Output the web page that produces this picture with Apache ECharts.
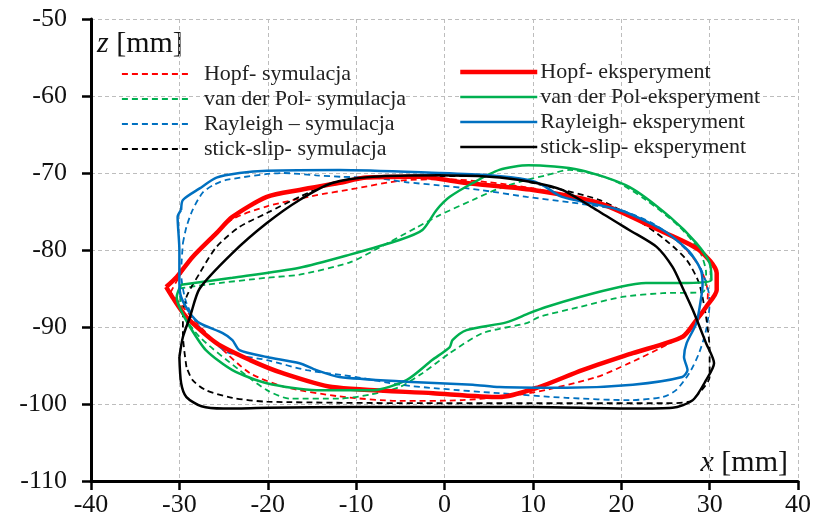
<!DOCTYPE html>
<html>
<head>
<meta charset="utf-8">
<script src="https://cdn.jsdelivr.net/npm/echarts@6/dist/echarts.min.js"></script>
<style>
  html, body { margin: 0; padding: 0; background: #fff; }
  #chart { width: 814px; height: 526px; }
</style>
</head>
<body>
<div id="chart"></div>
<script>
const xTicks = [-40, -30, -20, -10, 0, 10, 20, 30, 40];
const zTicks = [-110, -100, -90, -80, -70, -60, -50];

const simNames = ["Hopf- symulacja", "van der Pol- symulacja", "Rayleigh \u2013 symulacja", "stick-slip- symulacja"];
const expNames = ["Hopf- eksperyment", "van der Pol-eksperyment", "Rayleigh- eksperyment", "stick-slip- eksperyment"];

// [x, z] in mm
const hopfSim = [
  [-31, -85.5], [-29.5, -82.5], [-27, -79], [-24, -76], [-20, -74.3], [-15, -73], [-10, -72],
  [-5, -71], [0, -70.8], [5, -71.2], [10, -72], [15, -73.2], [20, -75], [24, -77], [27, -79.5],
  [29, -82.5], [29.8, -85.6], [29.6, -87.5], [27.7, -90.4], [25.5, -92.1], [20.9, -94.7],
  [17.2, -96.5], [9.6, -98.6], [2, -99.5], [-5, -99.6], [-12, -99], [-18, -97.8], [-22, -96],
  [-25.5, -92.5], [-28, -89.5], [-31, -85.5]
];
const hopfExp = [
  [-31.5, -84.8], [-30.3, -83.5], [-28.5, -80.9], [-25.8, -77.8], [-24, -75.7], [-20.1, -73.1],
  [-16.4, -72.2], [-12, -71.3], [-8.8, -70.6], [-2.8, -70.5], [2.5, -71.3], [10, -72.2],
  [17.5, -73.9], [25, -77.8], [28.8, -80], [30.8, -83], [30.8, -85.2], [29.6, -87.4],
  [28.5, -89.1], [26.9, -91.3], [21.3, -93.4], [15.6, -95.6], [10.7, -97.8], [6.2, -99.1],
  [-1.3, -98.6], [-12.7, -97.8], [-18.3, -96], [-22, -94.3], [-25.8, -92.1], [-29.2, -88.7],
  [-30.8, -86.1], [-31.5, -84.8]
];
const vdpSim = [
  [-30, -85], [-27, -84.5], [-20.1, -83.6], [-16.4, -83.2], [-10.7, -81.6], [-7.4, -79.7],
  [-3.2, -77.1], [-0.6, -75.5], [3.2, -73.5], [6.2, -72], [9.3, -70.9], [11.5, -70.3],
  [14.1, -69.6], [19, -70.9], [22.8, -73.5], [26.6, -77], [28.8, -80], [29.6, -83],
  [29.2, -85.5], [24.7, -85.6], [20.1, -86.1], [15.3, -87.4], [10.7, -88.7], [9.3, -89.5],
  [4.3, -90.8], [0.6, -93.4], [-2.5, -96], [-5.1, -97.8], [-8.5, -98.8], [-11.9, -99.3],
  [-17.5, -99.3], [-20.1, -98.2], [-23.2, -95.6], [-27.7, -91.3], [-29.6, -88.2], [-30, -85]
];
const vdpExp = [
  [-29.8, -84.5], [-24, -83.6], [-16.4, -82.3], [-10.7, -80.6], [-5.1, -78.7], [-2.5, -77.4],
  [-0.9, -74.8], [0.6, -73.1], [3.2, -71.3], [6.2, -69.6], [9.5, -69], [15.3, -69.6],
  [20.9, -71.8], [25.5, -75.7], [28.5, -79.1], [30, -81.7], [30.2, -83.9], [26.6, -84.3],
  [22.8, -84.3], [19.8, -84.8], [15.3, -86.1], [11.5, -87.4], [9.6, -88.2], [7, -89.4],
  [2.5, -90.4], [0.9, -91.7], [0.6, -92.6], [-1.4, -94.3], [-4.3, -96.9], [-8.1, -98.2],
  [-14.5, -98.2], [-20.1, -97.3], [-24, -95.6], [-27, -93], [-28.8, -90], [-30, -87.4],
  [-30.3, -86.1], [-29.8, -84.5]
];
const raySim = [
  [-29.6, -79.1], [-29.2, -77], [-28.5, -74.8], [-27.4, -72.6], [-26.2, -71.6], [-24.7, -70.9],
  [-18.3, -70], [-14.5, -70.3], [-11.5, -70.5], [-8.1, -70.6], [-4.3, -71.2], [-0.6, -71.6],
  [4, -72.2], [9.3, -73.1], [14.1, -73.8], [19.8, -74.8], [23.5, -76.5], [26.5, -79],
  [28.8, -82], [29.8, -85], [30, -86.9], [29.6, -90.4], [28.8, -93.4], [27.7, -96],
  [26.2, -98.2], [24.7, -99.1], [20.9, -99.5], [13.8, -99.2], [6.2, -98.6], [-0.6, -98],
  [-5, -97.5], [-10, -96.5], [-15.6, -95.6], [-20.1, -94.3], [-24.7, -93.2], [-27.7, -90],
  [-29.2, -86.9], [-29.8, -83], [-29.6, -79.1]
];
const rayExp = [
  [-29.8, -74.8], [-29.6, -73.5], [-27.7, -72], [-25.8, -70.6], [-23.2, -70], [-20.1, -69.7],
  [-11.9, -69.6], [-0.6, -70], [5.1, -70.3], [9.5, -70.9], [11, -71.5], [13.3, -73.1],
  [19.8, -74.8], [24.7, -77.4], [27.7, -80.2], [29, -82.6], [29.2, -84.5], [29, -86.5],
  [28.5, -89.5], [27.4, -92.1], [27.1, -93.9], [27.5, -95.6], [26.9, -96.5], [21.3, -97.5],
  [13.8, -97.9], [6.2, -97.8], [3.2, -97.5], [-4.3, -97.1], [-11.9, -96.5], [-14.5, -95.6],
  [-16.4, -94.7], [-20.1, -93.9], [-23.2, -93], [-24, -91.7], [-25.1, -90.8], [-27.7, -89.5],
  [-28.8, -88.2], [-29.8, -86.1], [-30, -84.3], [-30, -80], [-30.2, -75.7], [-29.8, -74.8]
];
const stickSim = [
  [-29.2, -95.2], [-29.6, -91], [-29.6, -88.7], [-29.2, -86.1], [-27.7, -83], [-25.8, -79.6],
  [-23.2, -77], [-20.1, -75.2], [-16.4, -73.1], [-12.7, -71.3], [-8.8, -70.6], [0, -70.4],
  [6.2, -70.5], [11.9, -71.8], [17.5, -73.5], [21.3, -75.7], [25, -78.7], [27.4, -81.3],
  [28.8, -84.3], [29.6, -88.7], [30, -93], [30, -96.5], [28.8, -98.6], [27.7, -99.7],
  [25, -99.9], [0, -99.9], [-20.1, -99.7], [-24, -99.2], [-27, -98.2], [-28.5, -96.9],
  [-29.2, -95.2]
];
const stickExp = [
  [-30, -93.9], [-29.6, -91.3], [-28.8, -88.7], [-27.7, -85], [-24, -80.4], [-20.1, -76.5],
  [-16.4, -73.5], [-12.7, -71.3], [-8.1, -70.5], [-0.6, -70.3], [5.1, -70.5], [9.5, -71.1],
  [13.3, -72.2], [17.2, -74.8], [20.9, -77.4], [24, -79.6], [25.8, -82.2], [26.9, -84.8],
  [28.1, -87.8], [29.6, -92.1], [30.5, -94.7], [29.6, -96.9], [28.1, -99.5], [25.8, -100.5],
  [21.3, -100.6], [10, -100.4], [0, -100.4], [-10, -100.4], [-20, -100.5], [-25, -100.6],
  [-27.5, -100.3], [-29.2, -99.1], [-29.8, -97.3], [-30, -93.9]
];

const RED = "#ff0000";
const GREEN = "#00b050";
const BLUE = "#0070c0";
const BLACK = "#000000";
const FONT = "'Liberation Serif', 'Times New Roman', serif";

function loop(name, data, color, width, dashed) {
  return {
    name,
    type: "line",
    data,
    symbol: "none",
    smooth: 0.25,
    lineStyle: { color, width, type: dashed ? [6, 4] : "solid" },
    itemStyle: { color },
  };
}

const legendBase = {
  orient: "vertical",
  itemWidth: 70,
  itemHeight: 14,
  itemStyle: { opacity: 0 },
  lineStyle: { width: "inherit", type: "inherit", color: "inherit" },
  textStyle: { fontSize: 22, fontFamily: FONT, color: "#222", lineHeight: 20 },
};

const chart = echarts.init(document.getElementById("chart"));
chart.setOption({
  animation: false,
  backgroundColor: "#fff",
  grid: { left: 91, right: 16, top: 19, bottom: 45 },
  xAxis: {
    type: "value",
    min: xTicks[0],
    max: xTicks[xTicks.length - 1],
    interval: 10,
    axisLine: { onZero: false, lineStyle: { color: "#000", width: 3 } },
    axisTick: { show: true, length: 9, lineStyle: { color: "#000", width: 2.5 } },
    axisLabel: { color: "#111", fontSize: 26, fontFamily: FONT, margin: 11 },
    splitLine: { show: true, lineStyle: { color: "#bdbdbd", width: 1, type: [4, 3] } },
  },
  yAxis: {
    type: "value",
    min: zTicks[0],
    max: zTicks[zTicks.length - 1],
    interval: 10,
    axisLine: { show: true, onZero: false, lineStyle: { color: "#000", width: 3 } },
    axisTick: { show: true, length: 9, lineStyle: { color: "#000", width: 2.5 } },
    axisLabel: { color: "#111", fontSize: 26, fontFamily: FONT, margin: 24 },
    splitLine: { show: true, lineStyle: { color: "#bdbdbd", width: 1, type: [4, 3] } },
  },
  legend: [
    Object.assign({}, legendBase, {
      data: simNames,
      left: 116,
      top: 58,
      itemGap: 3,
      textStyle: Object.assign({}, legendBase.textStyle, { padding: [0, 0, 0, 7] }),
    }),
    Object.assign({}, legendBase, {
      data: expNames,
      left: 453,
      top: 56,
      itemWidth: 77,
      itemGap: 3,
      textStyle: Object.assign({}, legendBase.textStyle, { padding: [0, 0, 0, -2] }),
    }),
  ],
  graphic: [
    {
      type: "text",
      left: 97,
      top: 29,
      style: {
        text: "{i|z} [mm]",
        font: "30px " + FONT,
        fill: "#111",
        rich: { i: { fontStyle: "italic", fontSize: 30, fontFamily: FONT } },
      },
    },
    {
      type: "text",
      right: 26,
      top: 448,
      style: {
        text: "{i|x} [mm]",
        font: "30px " + FONT,
        fill: "#111",
        rich: { i: { fontStyle: "italic", fontSize: 30, fontFamily: FONT } },
      },
    },
  ],
  series: [
    loop(simNames[0], hopfSim, RED, 1.8, true),
    loop(simNames[1], vdpSim, GREEN, 1.8, true),
    loop(simNames[2], raySim, BLUE, 1.8, true),
    loop(simNames[3], stickSim, BLACK, 1.8, true),
    loop(expNames[0], hopfExp, RED, 4.5, false),
    loop(expNames[1], vdpExp, GREEN, 2.5, false),
    loop(expNames[2], rayExp, BLUE, 2.5, false),
    loop(expNames[3], stickExp, BLACK, 2.5, false),
  ],
});
</script>
</body>
</html>
